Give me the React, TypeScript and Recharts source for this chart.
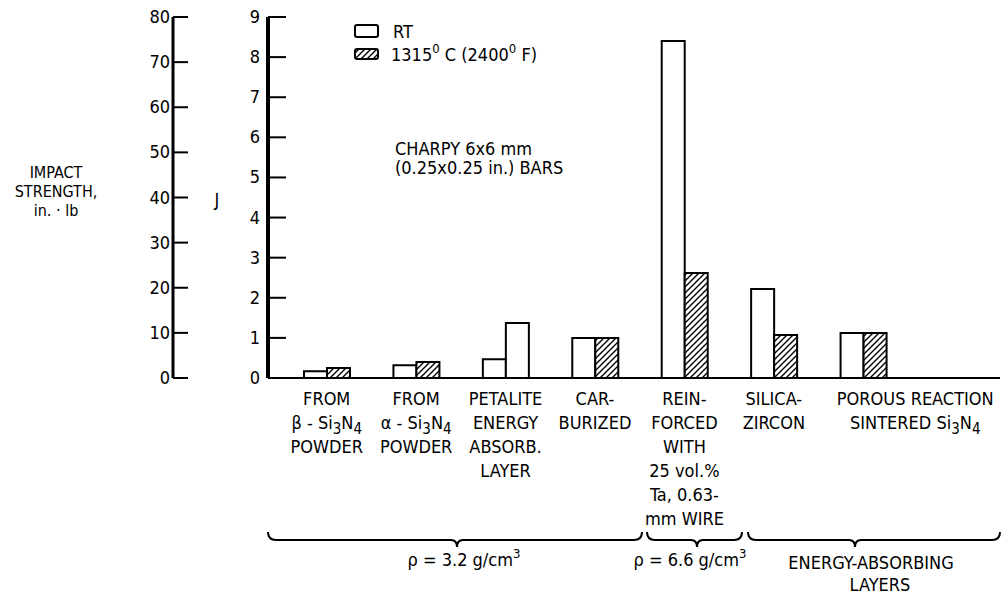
import React from "react";
import { BarChart, Bar, XAxis, YAxis, Cell } from "recharts";

// Charpy impact strength (J)
const categories = ["beta", "alpha", "petalite", "carburized", "reinforced", "silicaZircon", "porous"];
const categoryLines: string[][] = [
  ["FROM", "β - Si_3N_4", "POWDER"],
  ["FROM", "α - Si_3N_4", "POWDER"],
  ["PETALITE", "ENERGY", "ABSORB.", "LAYER"],
  ["CAR-", "BURIZED"],
  ["REIN-", "FORCED", "WITH", "25 vol.%", "Ta, 0.63-", "mm WIRE"],
  ["SILICA-", "ZIRCON"],
  ["POROUS REACTION", "SINTERED Si_3N_4"],
];
const rtJoules = [0.17, 0.32, 0.47, 1.0, 8.4, 2.22, 1.12];
const hotJoules = [0.25, 0.4, 1.37, 1.0, 2.62, 1.07, 1.12];
// the petalite second bar is drawn open in the original
const hotOpen = [false, false, true, false, false, false, false];

const jTicks = [0, 1, 2, 3, 4, 5, 6, 7, 8, 9];
const inlbTicks = [0, 10, 20, 30, 40, 50, 60, 70, 80];

const FONT = "'DejaVu Sans Condensed', 'DejaVu Sans', sans-serif";
const NARROW = "'Liberation Sans Narrow', 'DejaVu Sans Condensed', sans-serif";

const data = categories.map((name, i) => ({
  name,
  rt: rtJoules[i],
  hot: hotJoules[i],
}));

// "Si_3N_4" -> subscripted digits
function RichLine({ text, x, y, anchor, size = 18 }: { text: string; x: number; y: number; anchor: string; size?: number }) {
  const parts = text.split(/(_\d)/).filter((p) => p !== "");
  let down = false;
  return (
    <text x={x} y={y} textAnchor={anchor} fontFamily={FONT} fontSize={size} fill="#000">
      {parts.map((p, i) => {
        if (p.startsWith("_")) {
          const t = (
            <tspan key={i} dy={down ? 0 : 5} fontSize={size - 3}>
              {p.slice(1)}
            </tspan>
          );
          down = true;
          return t;
        }
        const t = (
          <tspan key={i} dy={down ? -5 : 0}>
            {p}
          </tspan>
        );
        down = false;
        return t;
      })}
    </text>
  );
}

function CategoryTick(props: any) {
  const { x, y, index } = props;
  const lines = categoryLines[index] || [];
  const last = index === categoryLines.length - 1;
  const cx = last ? x + 52 : x;
  return (
    <g>
      {lines.map((l, i) => (
        <RichLine key={i} text={l} x={cx} y={y + 27 + i * 24} anchor="middle" />
      ))}
    </g>
  );
}

function ValueTick(props: any) {
  const { x, y, payload, len, gap } = props;
  return (
    <g>
      <line x1={x} x2={x + len} y1={y} y2={y} stroke="#000" strokeWidth={2} />
      <text x={x - gap} y={y} dy={6} textAnchor="end" fontFamily={NARROW} fontSize={18} fill="#000">
        {payload.value}
      </text>
    </g>
  );
}

function brace(x1: number, xc: number, x2: number) {
  const yl = 540;
  return `M${x1},532 Q${x1},${yl} ${x1 + 8},${yl} L${xc - 6},${yl} Q${xc},${yl} ${xc},${yl + 7} Q${xc},${yl} ${xc + 6},${yl} L${x2 - 8},${yl} Q${x2},${yl} ${x2},532`;
}

export default function App() {
  return (
    <div style={{ position: "absolute", left: 0, top: 0, width: 1008, height: 600, background: "#fff" }}>
      <BarChart
        width={1008}
        height={600}
        data={data}
        margin={{ top: 17, right: 8, bottom: 102, left: 8 }}
        barGap={0}
      >
        <XAxis
          dataKey="name"
          height={120}
          padding={{ left: 14, right: 92 }}
          interval={0}
          tickSize={0}
          tickMargin={0}
          tickLine={false}
          axisLine={{ stroke: "#000", strokeWidth: 2 }}
          tick={<CategoryTick />}
        />
        {/* inner axis: joules */}
        <YAxis
          yAxisId="aJ"
          domain={[0, 9]}
          ticks={jTicks}
          allowDataOverflow
          interval={0}
          width={95}
          tickSize={0}
          tickMargin={0}
          tickLine={false}
          axisLine={{ stroke: "#000", strokeWidth: 4 }}
          tick={(p: any) => <ValueTick {...p} len={18} gap={8} />}
        />
        {/* outer axis: in.-lb */}
        <YAxis
          yAxisId="bInlb"
          domain={[0, 80]}
          ticks={inlbTicks}
          allowDataOverflow
          interval={0}
          width={165}
          tickSize={0}
          tickMargin={0}
          tickLine={false}
          axisLine={{ stroke: "#000", strokeWidth: 3 }}
          tick={(p: any) => <ValueTick {...p} len={15} gap={3} />}
        />
        <Bar yAxisId="aJ" dataKey="rt" barSize={23} fill="#fff" stroke="#000" strokeWidth={2} isAnimationActive={false} />
        <Bar yAxisId="aJ" dataKey="hot" barSize={23} fill="url(#hatch)" stroke="#000" strokeWidth={2} isAnimationActive={false}>
          {data.map((d, i) => (
            <Cell key={d.name} fill={hotOpen[i] ? "#fff" : "url(#hatch)"} />
          ))}
        </Bar>
      </BarChart>

      <svg width={1008} height={600} style={{ position: "absolute", left: 0, top: 0, pointerEvents: "none" }}>
        <defs>
          <pattern id="hatch" patternUnits="userSpaceOnUse" width={6} height={6}>
            <rect width={6} height={6} fill="#fff" />
            <path d="M-1,1 l2,-2 M0,6 l6,-6 M5,7 l2,-2" stroke="#000" strokeWidth={1.4} />
          </pattern>
        </defs>

        {/* legend */}
        <rect x={355} y={25} width={23} height={12} rx={2} fill="#fff" stroke="#000" strokeWidth={2} />
        <text x={393} y={38} fontFamily={FONT} fontSize={18}>RT</text>
        <rect x={355} y={49} width={23} height={10} rx={2} fill="url(#hatch)" stroke="#000" strokeWidth={2} />
        <text x={391} y={61} fontFamily={FONT} fontSize={18}>
          1315<tspan dy={-8} fontSize={13}>0</tspan>
          <tspan dy={8}> C (2400</tspan>
          <tspan dy={-8} fontSize={13}>0</tspan>
          <tspan dy={8}> F)</tspan>
        </text>

        {/* note */}
        <text x={395} y={155} fontFamily={FONT} fontSize={18}>CHARPY 6x6 mm</text>
        <text x={395} y={174} fontFamily={FONT} fontSize={18}>(0.25x0.25 in.) BARS</text>

        {/* axis titles */}
        <text x={217} y={206} textAnchor="middle" fontFamily={FONT} fontSize={18}>J</text>
        <text x={56} y={178} textAnchor="middle" fontFamily={FONT} fontSize={16}>IMPACT</text>
        <text x={56} y={197} textAnchor="middle" fontFamily={FONT} fontSize={16}>STRENGTH,</text>
        <text x={56} y={216} textAnchor="middle" fontFamily={FONT} fontSize={16}>in. · lb</text>

        {/* group braces */}
        <path d={brace(268, 457, 642)} fill="none" stroke="#000" strokeWidth={2} />
        <path d={brace(647, 697, 742)} fill="none" stroke="#000" strokeWidth={2} />
        <path d={brace(748, 855, 1000)} fill="none" stroke="#000" strokeWidth={2} />
        <text x={464} y={566} textAnchor="middle" fontFamily={FONT} fontSize={18}>
          ρ = 3.2 g/cm<tspan dy={-8} fontSize={13}>3</tspan>
        </text>
        <text x={690} y={566} textAnchor="middle" fontFamily={FONT} fontSize={18}>
          ρ = 6.6 g/cm<tspan dy={-8} fontSize={13}>3</tspan>
        </text>
        <text x={871} y={569} textAnchor="middle" fontFamily={FONT} fontSize={18}>ENERGY-ABSORBING</text>
        <text x={880} y={591} textAnchor="middle" fontFamily={FONT} fontSize={18}>LAYERS</text>
      </svg>
    </div>
  );
}
